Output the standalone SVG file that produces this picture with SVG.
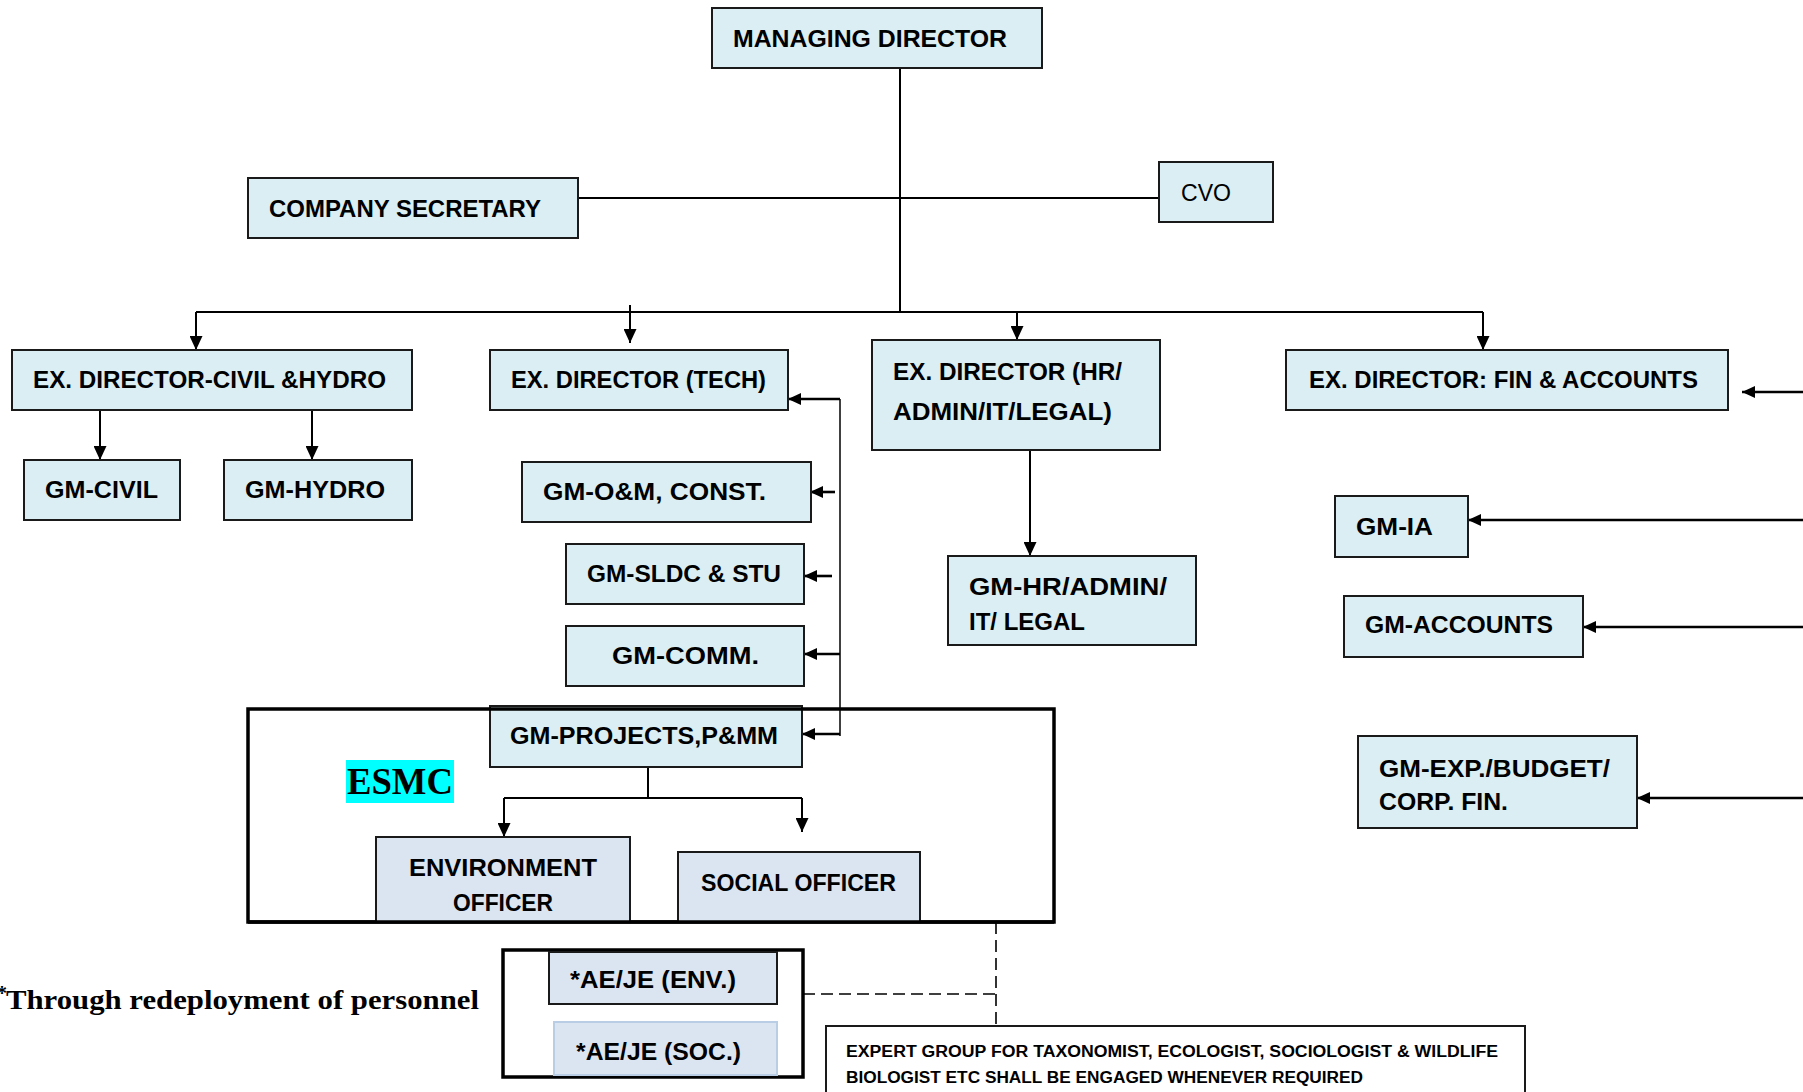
<svg xmlns="http://www.w3.org/2000/svg" width="1803" height="1092" viewBox="0 0 1803 1092">
<defs>
<style>
.bx{fill:#DAEEF3;stroke:#1a1a1a;stroke-width:2}
.bx2{fill:#DBE5F1;stroke:#1a1a1a;stroke-width:2}
.t{font-family:"Liberation Sans",Arial,sans-serif;font-weight:bold;font-size:24px;fill:#000}
.tn{font-family:"Liberation Sans",Arial,sans-serif;font-size:23px;fill:#000}
.ts{font-family:"Liberation Sans",Arial,sans-serif;font-weight:bold;font-size:16px;fill:#000}
.c{fill:none;stroke:#000;stroke-width:2}
.ca{fill:none;stroke:#000;stroke-width:2;marker-end:url(#ah)}
.cb{fill:none;stroke:#000;stroke-width:2.6;marker-end:url(#ah2)}
.d{fill:none;stroke:#000;stroke-width:1.6;stroke-dasharray:12 6}
.thick{fill:none;stroke:#000;stroke-width:3.5}
</style>
<marker id="ah" markerWidth="14" markerHeight="13" refX="14" refY="6.5" orient="auto" markerUnits="userSpaceOnUse"><path d="M0,0 L14,6.5 L0,13 z" fill="#000"/></marker>
<marker id="ah2" markerWidth="13" markerHeight="12" refX="13" refY="6" orient="auto" markerUnits="userSpaceOnUse"><path d="M0,0 L13,6 L0,12 z" fill="#000"/></marker>
</defs>
<rect width="1803" height="1092" fill="#fff"/>

<g id="connectors">
<path class="c" d="M900,68 V312"/>
<path class="c" d="M578,198 H1159"/>
<path class="c" d="M196,312 H1483"/>
<path class="ca" d="M196,312 V350"/>
<path class="ca" d="M630,305 V343"/>
<path class="ca" d="M1017,312 V340"/>
<path class="ca" d="M1483,312 V350"/>
<path class="ca" d="M100,410 V460"/>
<path class="ca" d="M312,410 V460"/>
<path class="c" d="M840,736 V399" style="stroke-width:1.5"/>
<path class="cb" d="M840,399 H788"/>
<path class="cb" d="M835,492 H810"/>
<path class="cb" d="M832,576 H804"/>
<path class="cb" d="M840,654 H804"/>
<path class="cb" d="M840,734 H802"/>
<path class="ca" d="M1030,450 V556"/>
<path class="cb" d="M1803,392 H1742"/>
<path class="cb" d="M1803,520 H1468"/>
<path class="cb" d="M1803,627 H1583"/>
<path class="cb" d="M1803,798 H1637"/>
<path class="c" d="M648,767 V798 M504,798 H802"/>
<path class="ca" d="M504,798 V837"/>
<path class="ca" d="M802,798 V832"/>
<path class="d" d="M996,922 V1026"/>
<path class="d" d="M803,994 H996"/>
</g>

<g id="md"><rect class="bx" x="712" y="8" width="330" height="60"/><text class="t" x="733" y="47" textLength="274" lengthAdjust="spacingAndGlyphs">MANAGING DIRECTOR</text></g>
<g id="cs"><rect class="bx" x="248" y="178" width="330" height="60"/><text class="t" x="269" y="217" textLength="272" lengthAdjust="spacingAndGlyphs">COMPANY SECRETARY</text></g>
<g id="cvo"><rect class="bx" x="1159" y="162" width="114" height="60"/><text class="tn" x="1181" y="201" textLength="50" lengthAdjust="spacingAndGlyphs">CVO</text></g>
<g id="ed-civil"><rect class="bx" x="12" y="350" width="400" height="60"/><text class="t" x="33" y="388" textLength="353" lengthAdjust="spacingAndGlyphs">EX. DIRECTOR-CIVIL &amp;HYDRO</text></g>
<g id="ed-tech"><rect class="bx" x="490" y="350" width="298" height="60"/><text class="t" x="511" y="388" textLength="255" lengthAdjust="spacingAndGlyphs">EX. DIRECTOR (TECH)</text></g>
<g id="ed-hr"><rect class="bx" x="872" y="340" width="288" height="110"/><text class="t" x="893" y="380" textLength="229" lengthAdjust="spacingAndGlyphs">EX. DIRECTOR (HR/</text><text class="t" x="893" y="420" textLength="219" lengthAdjust="spacingAndGlyphs">ADMIN/IT/LEGAL)</text></g>
<g id="ed-fin"><rect class="bx" x="1286" y="350" width="442" height="60"/><text class="t" x="1309" y="388" textLength="389" lengthAdjust="spacingAndGlyphs">EX. DIRECTOR: FIN &amp; ACCOUNTS</text></g>
<g id="gm-civil"><rect class="bx" x="24" y="460" width="156" height="60"/><text class="t" x="45" y="498" textLength="113" lengthAdjust="spacingAndGlyphs">GM-CIVIL</text></g>
<g id="gm-hydro"><rect class="bx" x="224" y="460" width="188" height="60"/><text class="t" x="245" y="498" textLength="140" lengthAdjust="spacingAndGlyphs">GM-HYDRO</text></g>
<g id="gm-om"><rect class="bx" x="522" y="462" width="289" height="60"/><text class="t" x="543" y="500" textLength="223" lengthAdjust="spacingAndGlyphs">GM-O&amp;M, CONST.</text></g>
<g id="gm-sldc"><rect class="bx" x="566" y="544" width="238" height="60"/><text class="t" x="587" y="582" textLength="194" lengthAdjust="spacingAndGlyphs">GM-SLDC &amp; STU</text></g>
<g id="gm-comm"><rect class="bx" x="566" y="626" width="238" height="60"/><text class="t" x="612" y="664" textLength="147" lengthAdjust="spacingAndGlyphs">GM-COMM.</text></g>
<g id="gm-proj"><rect class="bx" x="490" y="706" width="312" height="61"/><text class="t" x="510" y="744" textLength="268" lengthAdjust="spacingAndGlyphs">GM-PROJECTS,P&amp;MM</text></g>
<g id="esmc"><rect class="thick" x="248" y="709" width="806" height="213"/><rect x="346" y="760" width="108" height="43" fill="#00FFFF"/><text x="347" y="794" font-family="'Liberation Serif','Times New Roman',serif" font-weight="bold" font-size="37" textLength="106" lengthAdjust="spacingAndGlyphs">ESMC</text></g>
<g id="env-officer"><rect class="bx2" x="376" y="837" width="254" height="85"/><text class="t" x="409" y="876" textLength="188" lengthAdjust="spacingAndGlyphs">ENVIRONMENT</text><text class="t" x="453" y="911" textLength="100" lengthAdjust="spacingAndGlyphs">OFFICER</text></g>
<g id="soc-officer"><rect class="bx2" x="678" y="852" width="242" height="70"/><text class="t" x="701" y="891" textLength="195" lengthAdjust="spacingAndGlyphs">SOCIAL OFFICER</text></g>
<path d="M248,922 H1054" class="thick"/>
<g id="aeje"><rect class="thick" x="503" y="950" width="300" height="127"/>
<rect class="bx2" x="549" y="952" width="228" height="52"/><text class="t" x="570" y="988" textLength="166" lengthAdjust="spacingAndGlyphs">*AE/JE (ENV.)</text>
<rect x="554" y="1022" width="223" height="53" fill="#DBE5F1" stroke="#B9CDE5" stroke-width="2"/><text class="t" x="576" y="1060" textLength="165" lengthAdjust="spacingAndGlyphs">*AE/JE (SOC.)</text></g>
<g id="note"><text x="-3" y="1000" font-family="'Liberation Serif','Times New Roman',serif" font-weight="bold" font-size="20">*</text><text x="6" y="1009" font-family="'Liberation Serif','Times New Roman',serif" font-weight="bold" font-size="27" textLength="473" lengthAdjust="spacingAndGlyphs">Through redeployment of personnel</text></g>
<g id="expert"><rect x="826" y="1026" width="699" height="80" fill="#fff" stroke="#1a1a1a" stroke-width="2"/><text class="ts" x="846" y="1057" textLength="652" lengthAdjust="spacingAndGlyphs">EXPERT GROUP FOR TAXONOMIST, ECOLOGIST, SOCIOLOGIST &amp; WILDLIFE</text><text class="ts" x="846" y="1083" textLength="517" lengthAdjust="spacingAndGlyphs">BIOLOGIST ETC SHALL BE ENGAGED WHENEVER REQUIRED</text></g>
<g id="gm-hr"><rect class="bx" x="948" y="556" width="248" height="89"/><text class="t" x="969" y="595" textLength="198" lengthAdjust="spacingAndGlyphs">GM-HR/ADMIN/</text><text class="t" x="969" y="630" textLength="116" lengthAdjust="spacingAndGlyphs">IT/ LEGAL</text></g>
<g id="gm-ia"><rect class="bx" x="1335" y="496" width="133" height="61"/><text class="t" x="1356" y="535" textLength="77" lengthAdjust="spacingAndGlyphs">GM-IA</text></g>
<g id="gm-acc"><rect class="bx" x="1344" y="596" width="239" height="61"/><text class="t" x="1365" y="633" textLength="188" lengthAdjust="spacingAndGlyphs">GM-ACCOUNTS</text></g>
<g id="gm-exp"><rect class="bx" x="1358" y="736" width="279" height="92"/><text class="t" x="1379" y="777" textLength="231" lengthAdjust="spacingAndGlyphs">GM-EXP./BUDGET/</text><text class="t" x="1379" y="810" textLength="129" lengthAdjust="spacingAndGlyphs">CORP. FIN.</text></g>
</svg>
